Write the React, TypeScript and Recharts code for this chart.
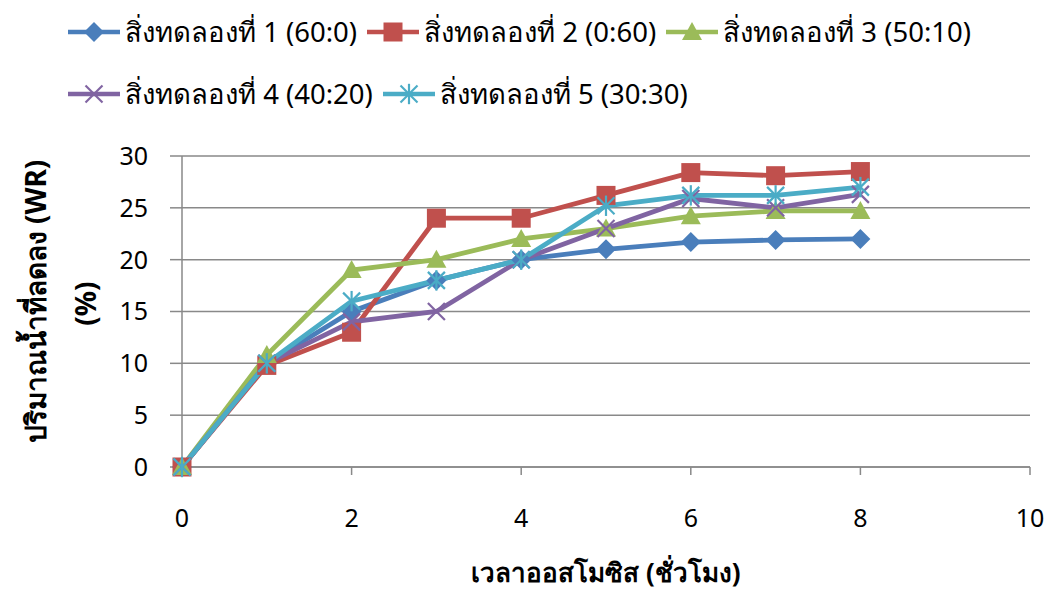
import React from 'react';
import { LineChart, Line, XAxis, YAxis, CartesianGrid, Label } from 'recharts';

// Osmosis time (hours) and water loss (%) for each treatment
const hours = [0, 1, 2, 3, 4, 5, 6, 7, 8];
const treatment1 = [0, 10, 15, 18, 20, 21, 21.7, 21.9, 22];
const treatment2 = [0, 9.8, 13, 24, 24, 26.2, 28.4, 28.1, 28.5];
const treatment3 = [0, 10.8, 19, 20, 22, 23, 24.2, 24.7, 24.7];
const treatment4 = [0, 10, 14, 15, 20, 23, 25.9, 25, 26.3];
const treatment5 = [0, 10, 16, 18, 20, 25.2, 26.2, 26.2, 27];

const seriesNames = [
  'สิ่งทดลองที่ 1 (60:0)',
  'สิ่งทดลองที่ 2 (0:60)',
  'สิ่งทดลองที่ 3 (50:10)',
  'สิ่งทดลองที่ 4 (40:20)',
  'สิ่งทดลองที่ 5 (30:30)',
];
const xTicks = [0, 2, 4, 6, 8, 10];
const yTicks = [0, 5, 10, 15, 20, 25, 30];
const xTitle = 'เวลาออสโมซิส (ชั่วโมง)';
const yTitleLines = ['ปริมาณน้ำที่ลดลง (WR)', '(%)'];

const colors = ['#4A7EBB', '#C0504D', '#9BBB59', '#8064A2', '#4BACC6'];
const markers = ['diamond', 'square', 'triangle', 'cross', 'star'];
const allSeries = [treatment1, treatment2, treatment3, treatment4, treatment5];

const data = hours.map((h, i) => {
  const row: Record<string, number> = { h };
  allSeries.forEach((s, k) => {
    row[`s${k}`] = s[i];
  });
  return row;
});

const FONT = "'Noto Sans', 'Liberation Sans', sans-serif";
const GRID = '#898989';

function Marker({ kind, color, cx, cy, size = 1 }: { kind: string; color: string; cx: number; cy: number; size?: number }) {
  const r = 10 * size;
  if (kind === 'diamond') {
    return <polygon points={`${cx},${cy - r} ${cx + r},${cy} ${cx},${cy + r} ${cx - r},${cy}`} fill={color} />;
  }
  if (kind === 'square') {
    const s = 9.5 * size;
    return <rect x={cx - s} y={cy - s} width={2 * s} height={2 * s} fill={color} />;
  }
  if (kind === 'triangle') {
    const s = 10 * size;
    return <polygon points={`${cx},${cy - s} ${cx + s},${cy + s * 0.8} ${cx - s},${cy + s * 0.8}`} fill={color} />;
  }
  const s = 8.5 * size;
  if (kind === 'cross') {
    return (
      <g stroke={color} strokeWidth={2.2}>
        <line x1={cx - s} y1={cy - s} x2={cx + s} y2={cy + s} />
        <line x1={cx - s} y1={cy + s} x2={cx + s} y2={cy - s} />
      </g>
    );
  }
  return (
    <g stroke={color} strokeWidth={2.2}>
      <line x1={cx - s} y1={cy - s} x2={cx + s} y2={cy + s} />
      <line x1={cx - s} y1={cy + s} x2={cx + s} y2={cy - s} />
      <line x1={cx} y1={cy - s * 1.2} x2={cx} y2={cy + s * 1.2} />
    </g>
  );
}

function LegendItem({ idx }: { idx: number }) {
  return (
    <div style={{ display: 'flex', alignItems: 'center', marginRight: 8 }}>
      <svg width={56} height={24} style={{ display: 'block' }}>
        <line x1={2} y1={12} x2={54} y2={12} stroke={colors[idx]} strokeWidth={4.5} />
        <Marker kind={markers[idx]} color={colors[idx]} cx={28} cy={12} size={1} />
      </svg>
      <span style={{ marginLeft: 3, whiteSpace: 'nowrap' }}>{seriesNames[idx]}</span>
    </div>
  );
}

const XTitle = (props: any) => {
  const { viewBox } = props;
  const cx = viewBox.x + viewBox.width / 2;
  return (
    <text x={cx} y={582} textAnchor="middle" fontFamily={FONT} fontWeight="bold" fontSize={26} fill="#000">
      {xTitle}
    </text>
  );
};

const YTitle = (props: any) => {
  const { viewBox } = props;
  const cy = viewBox.y + viewBox.height / 2;
  return (
    <g fontFamily={FONT} fontWeight="bold" fontSize={28} fill="#000">
      <text x={0} y={0} textAnchor="middle" transform={`translate(46, ${cy - 10}) rotate(-90)`}>
        {yTitleLines[0]}
      </text>
      <text x={0} y={0} textAnchor="middle" transform={`translate(96, ${cy - 8}) rotate(-90)`}>
        {yTitleLines[1]}
      </text>
    </g>
  );
};

export default function App() {
  return (
    <div style={{ position: 'absolute', left: 0, top: 0, width: 1054, height: 593, background: '#fff', fontFamily: FONT }}>
      <div style={{ position: 'absolute', left: 66, top: 10, fontSize: 27.5, color: '#000' }}>
        <div style={{ display: 'flex', height: 44 }}>
          <LegendItem idx={0} />
          <LegendItem idx={1} />
          <LegendItem idx={2} />
        </div>
        <div style={{ display: 'flex', height: 44, marginTop: 18 }}>
          <LegendItem idx={3} />
          <LegendItem idx={4} />
        </div>
      </div>
      <div style={{ position: 'absolute', left: 0, top: 0 }}>
        <LineChart width={1054} height={593} data={data} margin={{ top: 156, right: 24, bottom: 0, left: 0 }}>
          <CartesianGrid vertical={false} stroke={GRID} strokeWidth={1.5} />
          <XAxis
            dataKey="h"
            type="number"
            domain={[0, 10]}
            ticks={xTicks}
            height={126}
            stroke={GRID}
            strokeWidth={1.5}
            tickSize={8}
            tickMargin={34}
            tick={{ fill: '#000', fontSize: 25, fontFamily: FONT }}
          >
            <Label content={<XTitle />} />
          </XAxis>
          <YAxis
            type="number"
            domain={[0, 30]}
            ticks={yTicks}
            width={182}
            stroke={GRID}
            strokeWidth={1.5}
            tickSize={12}
            tickMargin={22}
            tick={{ fill: '#000', fontSize: 25, fontFamily: FONT }}
          >
            <Label content={<YTitle />} />
          </YAxis>
          {allSeries.map((_, k) => (
            <Line
              key={k}
              dataKey={`s${k}`}
              stroke={colors[k]}
              strokeWidth={4.8}
              isAnimationActive={false}
              dot={(p: any) => <Marker key={`d${k}-${p.index}`} kind={markers[k]} color={colors[k]} cx={p.cx} cy={p.cy} />}
              activeDot={false}
            />
          ))}
        </LineChart>
      </div>
    </div>
  );
}
